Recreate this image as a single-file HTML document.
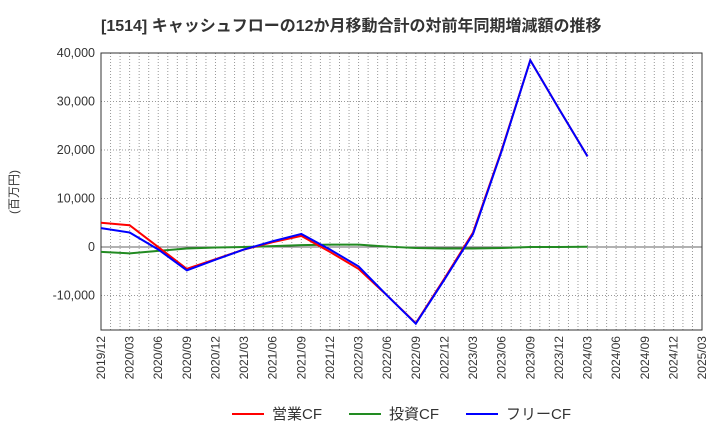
<!DOCTYPE html>
<html><head><meta charset="utf-8"><style>
body{margin:0;background:#fff;font-family:"Liberation Sans","Noto Sans CJK JP",sans-serif}
svg text{font-family:"Liberation Sans","Noto Sans CJK JP",sans-serif}
</style></head><body>
<svg id="c" width="720" height="440" xmlns="http://www.w3.org/2000/svg">
<text x="101" y="31" font-size="16" font-weight="bold" fill="#333">[1514]  キャッシュフローの12か月移動合計の対前年同期増減額の推移</text>
<text transform="translate(18,192) rotate(-90)" text-anchor="middle" font-size="12" fill="#333">(百万円)</text>
<g id="grid"></g><g id="axes"></g><g id="series"></g>
<g>
<line x1="232" y1="414" x2="264" y2="414" stroke="#f00" stroke-width="2"/><text x="272" y="419" font-size="15" fill="#333">営業CF</text>
<line x1="349" y1="414" x2="381" y2="414" stroke="#228b22" stroke-width="2"/><text x="389" y="419" font-size="15" fill="#333">投資CF</text>
<line x1="466" y1="414" x2="498" y2="414" stroke="#00f" stroke-width="2"/><text x="506" y="419" font-size="15" fill="#333">フリーCF</text>
</g>
</svg>
<script>
const xLabels=["2019/12","2020/03","2020/06","2020/09","2020/12","2021/03","2021/06","2021/09","2021/12","2022/03","2022/06","2022/09","2022/12","2023/03","2023/06","2023/09","2023/12","2024/03","2024/06","2024/09","2024/12","2025/03"];
const yTicks=[-10000,0,10000,20000,30000,40000];
const operatingCF=[5000,4500,0,-4500,-2500,-500,1000,2300,-1000,-4500,-10000,-15700,-6500,3000,20000,38500,28500,18700];
const investingCF=[-1000,-1300,-800,-300,-100,0,200,400,500,500,100,-200,-300,-300,-200,0,0,50];
const freeCF=[3900,3000,-500,-4800,-2600,-500,1200,2700,-500,-4000,-10000,-15800,-6700,2700,19800,38500,28500,18700];
const L=101,R=702,T=53,B=330,ymin=-17100,ymax=40000;
const NS="http://www.w3.org/2000/svg";
const xs=i=>L+(R-L)*i/(xLabels.length-1);
const ys=v=>B-(B-T)*(v-ymin)/(ymax-ymin);
function mk(p,t,a){const e=document.createElementNS(NS,t);for(const k in a)e.setAttribute(k,a[k]);document.getElementById(p).appendChild(e);return e;}
for(let m=0;m<=(xLabels.length-1)*3;m++){const x=L+(R-L)*m/((xLabels.length-1)*3);
 const g=mk('grid','line',{x1:x,x2:x,y1:T,y2:B,stroke:'#999','stroke-dasharray':'1,2','stroke-width':1});
 
 }
yTicks.forEach(v=>{const y=ys(v);
 const g=mk('grid','line',{x1:L,x2:R,y1:y,y2:y,stroke:v===0?'#666':'#999','stroke-dasharray':v===0?'':'1,2','stroke-width':1});
 
 
 const t=mk('axes','text',{x:L-6,y:y+4,'text-anchor':'end','font-size':12.5,fill:'#333'});
 
 
 t.textContent=v.toLocaleString('en-US');});
const fr=mk('axes','rect',{x:L,y:T,width:R-L,height:B-T,fill:'none',stroke:'#333','stroke-width':1});


xLabels.forEach((s,i)=>{const x=xs(i);
 const t=mk('axes','text',{transform:`translate(${x+4},${B+6}) rotate(-90)`,'text-anchor':'end','font-size':12,fill:'#333'});
 
 
 t.textContent=s;});
[[investingCF,'#228b22','investing-cf-line'],[operatingCF,'#f00','operating-cf-line'],[freeCF,'#00f','free-cf-line']].forEach(([d,c,n])=>{
 const p=mk('series','polyline',{points:d.map((v,i)=>xs(i)+','+ys(v)).join(' '),fill:'none',stroke:c,'stroke-width':2});
 
 });
</script>
</body></html>
